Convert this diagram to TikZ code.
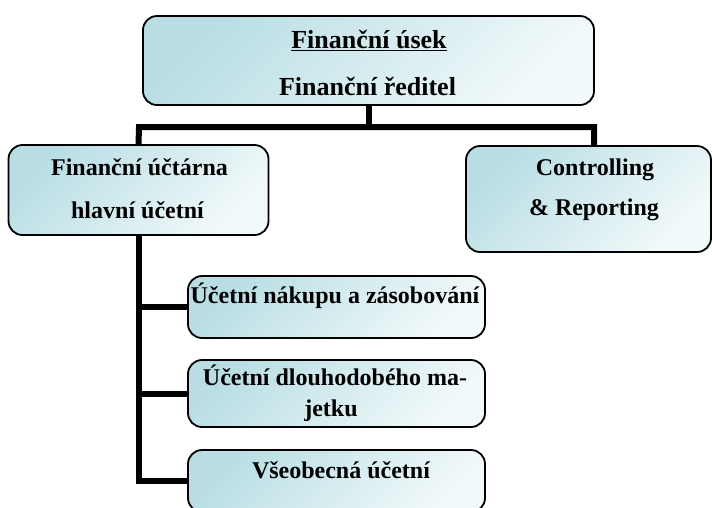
\documentclass[tikz,border=0pt]{standalone}
\usepackage{fontspec}
\setmainfont{Liberation Serif}
\begin{document}
\begin{tikzpicture}[x=1pt,y=-1pt,
  box/.style={draw=black, line width=1.8pt, rounded corners=14pt, inner sep=0pt, outer sep=0pt,
    shading=axis, top color=boxteal, bottom color=boxwhite, shading angle=45},
  conn/.style={draw=black, line width=6pt, line join=miter},
  lbl/.style={anchor=base, inner sep=0pt, font=\bfseries\fontsize{24}{28}\selectfont},
  lblbig/.style={anchor=base, inner sep=0pt, font=\bfseries\fontsize{26}{30}\selectfont}]
\definecolor{boxteal}{RGB}{184,222,228}
\definecolor{boxwhite}{RGB}{242,249,250}
\useasboundingbox (0,0) rectangle (712,507);
\begin{scope}
\clip (0,0) rectangle (712,507);
\coordinate (barL) at (139,127);
\coordinate (barR) at (594,127);
\node[box, minimum width=451pt, minimum height=89pt] (top) at (368.5,60.5) {};
\node[box, minimum width=260pt, minimum height=90pt] (left) at (138.5,190) {};
\node[box, minimum width=245pt, minimum height=106pt] (right) at (588.5,199) {};
\node[box, minimum width=297pt, minimum height=62pt] (c1) at (336.5,307) {};
\node[box, minimum width=297pt, minimum height=67pt] (c2) at (336.5,393.5) {};
\node[box, minimum width=297pt, minimum height=62pt] (c3) at (336.5,481) {};
\draw[conn] (top.south) -- (top.south |- barL);
\draw[conn] (left.north) -- (barL) -- (barR) -- (barR |- right.north);
\draw[conn] (left.south) |- (c3.west);
\draw[conn] (left.south |- c1.west) -- (c1.west);
\draw[conn] (left.south |- c2.west) -- (c2.west);
\node[lblbig] (t1) at (369,48) {\underline{Finanční úsek}};
\node[lblbig] (t2) at (367.5,95) {Finanční ředitel};
\node[lbl] (l1) at (139.5,175) {Finanční účtárna};
\node[lbl] (l2) at (137.5,218) {hlavní účetní};
\node[lbl] (r1) at (595,175) {Controlling};
\node[lbl] (r2) at (594,215) {\& Reporting};
\node[lbl] (k1) at (335,303) {Účetní nákupu a zásobování};
\node[lbl] (k2a) at (335,385) {Účetní dlouhodobého ma-};
\node[lbl] (k2b) at (331,416) {jetku};
\node[lbl] (k3) at (341,478) {Všeobecná účetní};
\end{scope}
\end{tikzpicture}
\end{document}
